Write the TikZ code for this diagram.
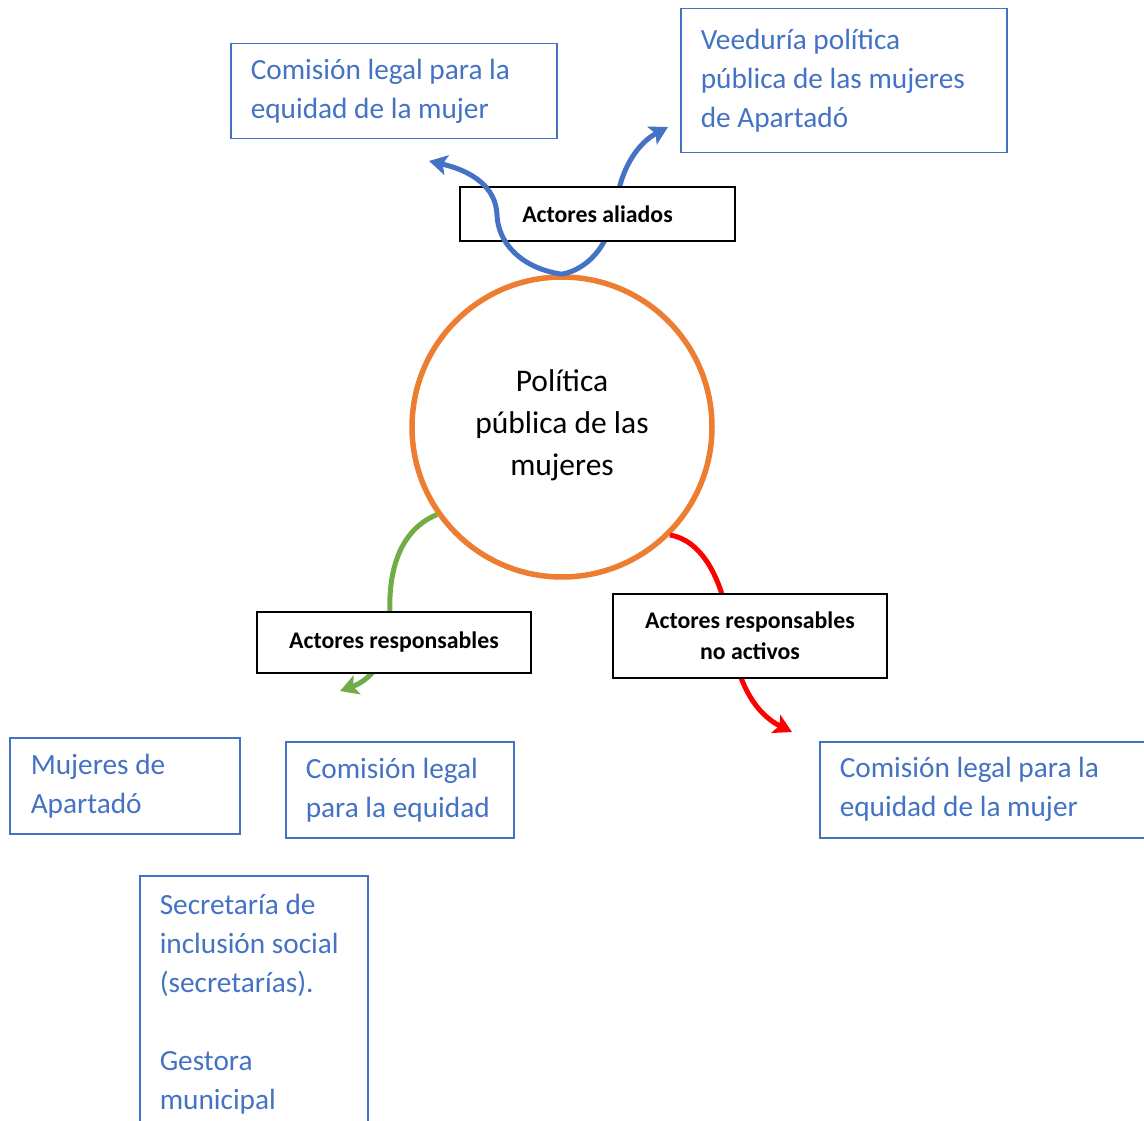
\documentclass[tikz,border=0pt]{standalone}
\usepackage{fontspec}
\setmainfont{Carlito}
\definecolor{actblue}{RGB}{68, 114, 196}
\definecolor{polorange}{RGB}{237, 125, 49}
\definecolor{respgreen}{RGB}{112, 173, 71}
\definecolor{inactred}{RGB}{255, 0, 0}
\usepackage{tikz}
\usetikzlibrary{arrows.meta, positioning, calc}

\tikzset{
  actorbox/.style={draw=actblue, line width=1.5pt, text=actblue, anchor=north west, align=flush left,
    inner xsep=20pt, inner ysep=8pt, font=\fontsize{29.3}{39}\selectfont},
  rolebox/.style={draw=black, line width=1.5pt, fill=white, align=center, inner sep=2pt,
    font=\fontsize{23.8}{31}\selectfont\bfseries},
  roleline/.style={line width=5pt, -{Stealth[length=18pt, width=20pt, inset=4pt]}}
}

\begin{document}
\begin{tikzpicture}[x=1pt, y=-1pt]
  \useasboundingbox (0,0) rectangle (1144,1121);
  \clip (0,0) rectangle (1144,1121);

  % Central policy
  \node[circle, draw=polorange, line width=5.5pt, minimum size=300pt, align=center,
        font=\fontsize{31.5}{42}\selectfont] (pol) at (562,427) {Política\\pública de las\\mujeres\\[-34pt]};

  % Free arrow ends
  \coordinate (aliadoL) at (429,161);
  \coordinate (aliadoR) at (668,127);
  \coordinate (respEnd) at (340,691);
  \coordinate (inactEnd) at (792,732);

  % Lines running behind their boxes
  \draw[roleline, respgreen] (pol.215) .. controls (400,530) and (388,570) .. (390,615)
    .. controls (391,650) and (376,678) .. (respEnd);
  \draw[roleline, inactred] (pol.-45) .. controls (700,540) and (722,575) .. (730,630)
    .. controls (737,690) and (760,716) .. (inactEnd);
  \draw[roleline, actblue] (pol.north) .. controls (592,268) and (612,240) .. (617,200)
    .. controls (622,165) and (640,142) .. (aliadoR);

  % Role labels
  \node[rolebox, minimum width=275pt, minimum height=54pt] (aliados) at (597.5,214) {Actores aliados};
  \node[rolebox, minimum width=274pt, minimum height=61pt] (resp) at (394,642.5) {Actores responsables};
  \node[rolebox, minimum width=274pt, minimum height=84pt] (inact) at (750,636) {Actores responsables\\no activos};

  % Allied actors, left line over the box
  \draw[roleline, actblue] (pol.north) .. controls (520,268) and (498,242) .. (497,215)
    .. controls (496,187) and (472,171) .. (aliadoL);

  % Actor boxes
  \node[actorbox, text width=286pt, minimum height=95pt] (comTop) at (230,43) {Comisión legal para la\\equidad de la mujer};
  \node[actorbox, text width=286pt, minimum height=144pt] (veed) at (680,8) {Veeduría política\\pública de las mujeres\\de Apartadó};
  \node[actorbox, text width=188pt, minimum height=96pt, inner xsep=21pt] (mujeres) at (9,737) {Mujeres de\\Apartadó};
  \node[actorbox, text width=188pt, minimum height=96pt] (comEq) at (285,741) {Comisión legal\\para la equidad};
  \node[actorbox, text width=300pt, minimum height=96pt] (comRight) at (819,741) {Comisión legal para la\\equidad de la mujer};
  \node[actorbox, text width=188pt, inner ysep=18pt] (secre) at (139,875) {Secretaría de\\inclusión social\\(secretarías).\\[39pt]Gestora\\municipal\\\mbox{}};
\end{tikzpicture}
\end{document}
